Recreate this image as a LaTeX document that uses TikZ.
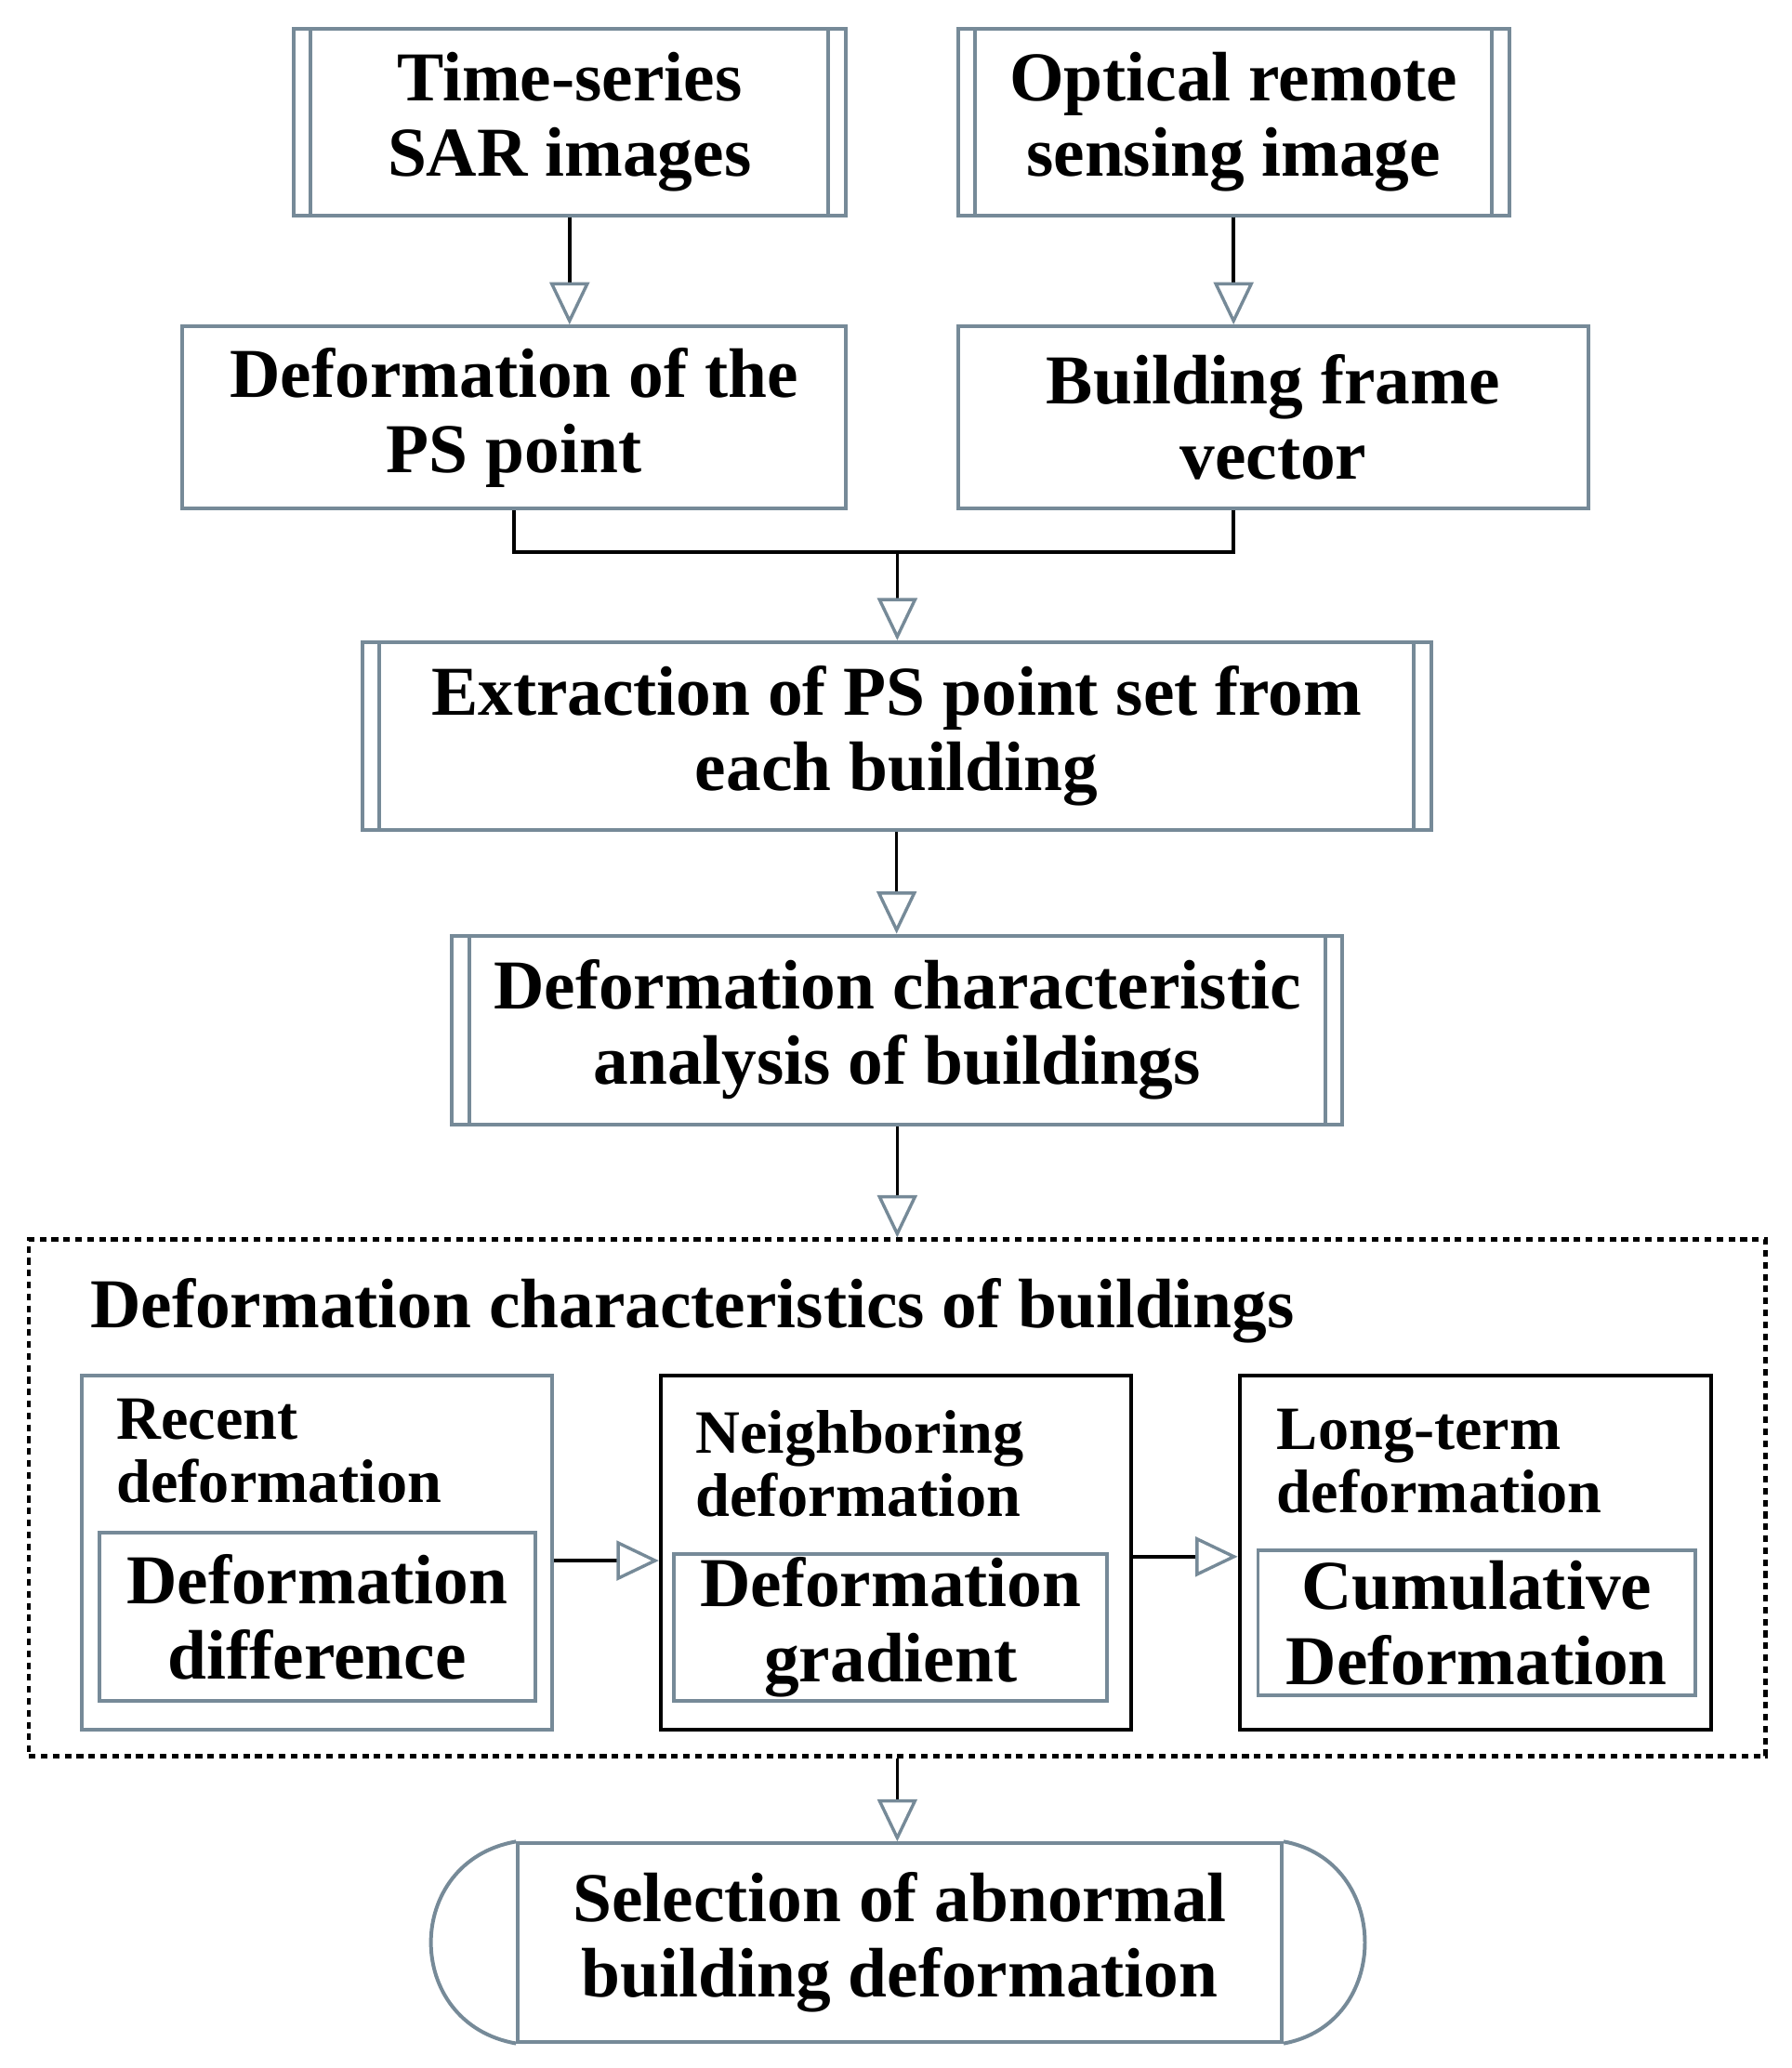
\documentclass[tikz,border=0pt]{standalone}
\usepackage{fontspec}
\setmainfont{Liberation Serif}
\usetikzlibrary{arrows.meta}
\definecolor{bordc}{RGB}{118,138,152}
\begin{document}
\begin{tikzpicture}[x=0.5pt,y=-0.5pt,
  box/.style={draw=bordc, line width=1.4pt, fill=white, inner sep=0pt, align=center,
    font=\fontsize{26.5}{28.5}\selectfont\bfseries},
  proc/.style={box, path picture={
     \draw[bordc, line width=1.4pt]
       ([xshift=6.5pt]path picture bounding box.south west) -- ([xshift=6.5pt]path picture bounding box.north west)
       ([xshift=-6.5pt]path picture bounding box.south east) -- ([xshift=-6.5pt]path picture bounding box.north east);}},
  hdr/.style={inner sep=0pt, align=left, font=\fontsize{23.3}{24}\selectfont\bfseries},
  conn/.style={draw=black, line width=1.3pt},
  arr/.style={conn, -{Triangle[color=bordc, fill=white, length=16pt, width=15pt, line width=1.2pt]}},
]
\fill[white] (0,0) rectangle (1356,1565);
\useasboundingbox (0,0) rectangle (1356,1565);

% top row
\node[proc, minimum width=209pt, minimum height=70.5pt] (ts) at (431,92.5) {Time-series\\SAR images};
\node[proc, minimum width=208.5pt, minimum height=70.5pt] (opt) at (933.5,92.5) {Optical remote\\sensing image};
% second row
\node[box, minimum width=251pt, minimum height=69pt] (defps) at (389,316) {Deformation of the\\PS point};
\node[box, minimum width=238.5pt, minimum height=69pt] (bfv) at (963.5,316) {Building frame\\vector};
% middle
\node[proc, minimum width=404.5pt, minimum height=71pt] (ext) at (678.5,557) {Extraction of PS point set from\\each building};
\node[proc, minimum width=337pt, minimum height=71.5pt] (dca) at (679,779.5) {Deformation characteristic\\analysis of buildings};

% dashed group
\node[draw=black, line width=1.5pt, dash pattern=on 2.5pt off 2pt, minimum width=657pt, minimum height=195.5pt, inner sep=0pt] (dash) at (679,1133.5) {};
\node[inner sep=0pt, anchor=base west, font=\fontsize{26.5}{28.5}\selectfont\bfseries] (title) at (68,1005) {Deformation characteristics of buildings};

\node[box, minimum width=178pt, minimum height=134pt] (A) at (240,1175) {};
\node[box, draw=black, minimum width=178pt, minimum height=134pt] (B) at (678,1175) {};
\node[box, draw=black, minimum width=178.5pt, minimum height=134pt] (C) at (1116.5,1175) {};

\node[hdr, anchor=north west] (Ah) at (88,1058) {Recent\\deformation};
\node[hdr, anchor=north west] (Bh) at (526,1067) {Neighboring\\deformation};
\node[hdr, anchor=north west] (Ch) at (966,1066) {Long-term\\deformation};

\node[box, minimum width=165pt, minimum height=63.5pt] (Ai) at (240,1223.5) {Deformation\\difference};
\node[box, minimum width=164pt, minimum height=55.5pt] (Bi) at (674,1231.5) {Deformation\\gradient};
\node[box, minimum width=165.5pt, minimum height=55pt] (Ci) at (1117.5,1228) {Cumulative\\Deformation};

% terminal
\node[box, minimum width=289pt, minimum height=75pt] (term) at (681,1470) {Selection of abnormal\\building deformation};
\draw[bordc, line width=1.4pt] (term.north west)
  .. controls ([xshift=-43pt,yshift=-7.5pt]term.north west) and ([xshift=-43pt,yshift=7.5pt]term.south west) .. (term.south west);
\draw[bordc, line width=1.4pt] (term.north east)
  .. controls ([xshift=41pt,yshift=-7.5pt]term.north east) and ([xshift=41pt,yshift=7.5pt]term.south east) .. (term.south east);

% connectors
\draw[arr] (ts.south) -- (ts.south |- defps.north);
\draw[arr] (opt.south) -- (opt.south |- bfv.north);
\coordinate (j) at (679,418);
\draw[conn] (defps.south) |- (j) -| (bfv.south -| opt.south);
\draw[arr] (j) -- (j |- ext.north);
\draw[arr] (ext.south) -- (ext.south |- dca.north);
\draw[arr] (dca.south) -- (dca.south |- dash.north);
\draw[arr] ([yshift=-3pt]A.east) -- ([yshift=-3pt]B.west);
\draw[arr] ([yshift=-1.5pt]B.east) -- ([yshift=-1.5pt]C.west);
\draw[arr] (dash.south) -- (dash.south |- term.north);
\end{tikzpicture}
\end{document}
